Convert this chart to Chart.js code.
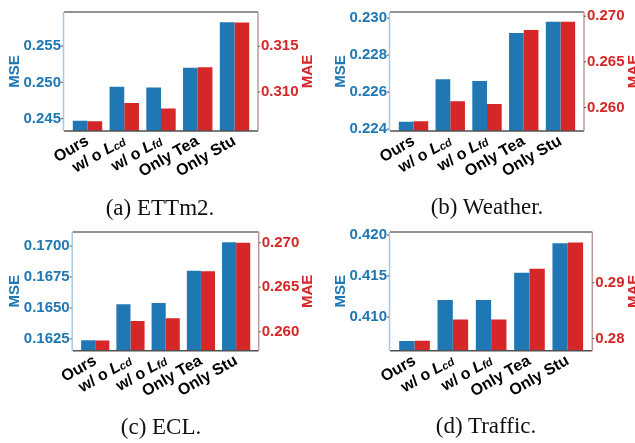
<!DOCTYPE html>
<html>
<head>
<meta charset="utf-8">
<script src="https://cdn.jsdelivr.net/npm/chart.js@4.4.1/dist/chart.umd.min.js"></script>
<style>
html,body{margin:0;padding:0;background:#fff;overflow:hidden;width:635px;height:443px}
canvas{position:absolute}
.cap{position:absolute;font-family:"Liberation Serif","Times New Roman",serif;font-size:23px;color:#111;transform:translate(-50%,-50%);white-space:nowrap}
</style>
</head>
<body>
<canvas id="cA" width="320" height="200" style="left:0;top:0"></canvas>
<canvas id="cB" width="330" height="200" style="left:320px;top:0"></canvas>
<canvas id="cC" width="320" height="200" style="left:0;top:220px"></canvas>
<canvas id="cD" width="330" height="200" style="left:320px;top:220px"></canvas>
<div class="cap" style="left:160px;top:208px">(a) ETTm2.</div>
<div class="cap" style="left:487px;top:207px">(b) Weather.</div>
<div class="cap" style="left:161px;top:427px">(c) ECL.</div>
<div class="cap" style="left:486px;top:426px">(d) Traffic.</div>
<script>
// ===== DATA =====
let categories=['Ours','w/ o L_{cd}','w/ o L_{fd}','Only Tea','Only Stu']

let ettMse=[0.2447,0.2494,0.2493,0.2520,0.2583]
let ettMae=[0.3068,0.3088,0.3082,0.3127,0.3176]
let ettMseTicks=['0.245','0.250','0.255']
let ettMaeTicks=['0.310','0.315']

let weatherMse=[0.2244,0.2267,0.2266,0.2292,0.2298]
let weatherMae=[0.2585,0.2607,0.2604,0.2685,0.2694]
let weatherMseTicks=['0.224','0.226','0.228','0.230']
let weatherMaeTicks=['0.260','0.265','0.270']

let eclMse=[0.1624,0.1653,0.1654,0.1680,0.1703]
let eclMae=[0.2590,0.2612,0.2615,0.2668,0.2700]
let eclMseTicks=['0.1625','0.1650','0.1675','0.1700']
let eclMaeTicks=['0.260','0.265','0.270']

let trafficMse=[0.4071,0.4121,0.4121,0.4154,0.4190]
let trafficMae=[0.2796,0.2834,0.2834,0.2925,0.2972]
let trafficMseTicks=['0.410','0.415','0.420']
let trafficMaeTicks=['0.28','0.29']

const BLUE='#1f77b4'
const RED='#d62728'
const SANS='"Liberation Sans", Arial, sans-serif'

Chart.defaults.font.family=SANS

// spines, tick marks, rotated x labels and axis titles
const panelPlugin={
    id:'panel',
    afterDraw(chart){
        let ctx=chart.ctx, a=chart.chartArea
        let xs=chart.scales.x, yl=chart.scales.y, yr=chart.scales.y1
        ctx.save()
        // spines
        ctx.lineWidth=1.5
        ctx.strokeStyle='#6e6e6e'
        ctx.beginPath(); ctx.moveTo(a.left,a.top); ctx.lineTo(a.right,a.top); ctx.stroke()
        ctx.strokeStyle='#505050'
        ctx.beginPath(); ctx.moveTo(a.left,a.bottom); ctx.lineTo(a.right,a.bottom); ctx.stroke()
        ctx.strokeStyle='#a9c7e0'
        ctx.beginPath(); ctx.moveTo(a.left-0.5,a.top); ctx.lineTo(a.left-0.5,a.bottom); ctx.stroke()
        ctx.strokeStyle='#bf9999'
        ctx.beginPath(); ctx.moveTo(a.right,a.top); ctx.lineTo(a.right,a.bottom); ctx.stroke()
        // tiny tick marks
        ctx.lineWidth=1
        ctx.strokeStyle='#555'
        yl.ticks.forEach(t=>{
            let p=yl.getPixelForValue(t.value)
            ctx.beginPath(); ctx.moveTo(a.left-3,p); ctx.lineTo(a.left-1,p); ctx.stroke()
        })
        yr.ticks.forEach(t=>{
            let p=yr.getPixelForValue(t.value)
            ctx.beginPath(); ctx.moveTo(a.right,p); ctx.lineTo(a.right+2,p); ctx.stroke()
        })
        // x labels, right aligned at the tick and rotated 30 deg
        ctx.fillStyle='#000'
        categories.forEach((lab,i)=>{
            let m=lab.match(/^(.*?)(\w)_\{(\w+)\}$/)
            let parts=m ? [[m[1],'bold 16px '+SANS,0],[m[2],'italic bold 16px '+SANS,0],[m[3],'italic bold 11px '+SANS,4.5]]
                        : [[lab,'bold 16px '+SANS,0]]
            let total=0
            parts.forEach(p=>{ ctx.font=p[1]; total+=ctx.measureText(p[0]).width })
            ctx.save()
            ctx.translate(xs.getPixelForValue(i)-4,a.bottom+2)
            ctx.rotate(-Math.PI/6)
            ctx.textAlign='left'
            ctx.textBaseline='top'
            let x=-total
            parts.forEach(p=>{
                ctx.font=p[1]
                ctx.fillText(p[0],x,p[2])
                x+=ctx.measureText(p[0]).width
            })
            ctx.restore()
        })
        // axis titles
        ctx.font='bold 15px '+SANS
        let wl=Math.max(...yl.ticks.map(t=>ctx.measureText(t.label).width))
        let wr=Math.max(...yr.ticks.map(t=>ctx.measureText(t.label).width))
        let midY=(a.top+a.bottom)/2
        ctx.textAlign='center'
        ctx.textBaseline='middle'
        ctx.fillStyle=BLUE
        ctx.save(); ctx.translate(a.left-3-wl-9,midY); ctx.rotate(-Math.PI/2); ctx.fillText('MSE',0,0); ctx.restore()
        ctx.fillStyle=RED
        ctx.save(); ctx.translate(a.right+3+wr+9,midY); ctx.rotate(-Math.PI/2); ctx.fillText('MAE',0,0); ctx.restore()
        ctx.restore()
    }
}

function drawPanel(id,mse,mae,mseTicks,maeTicks,yMin,yMax,y1Min,y1Max,box){
    let ctx=document.getElementById(id).getContext('2d')
    return new Chart(ctx,{
        type:'bar',
        data:{
            datasets:[{
                label:'MSE',
                data:mse.map((v,i)=>({x:i,y:v})),
                yAxisID:'y',
                backgroundColor:BLUE
            },{
                label:'MAE',
                data:mae.map((v,i)=>({x:i,y:v})),
                yAxisID:'y1',
                backgroundColor:RED
            }]
        },
        options:{
            responsive:false,
            animation:false,
            categoryPercentage:0.8,
            barPercentage:1.0,
            layout:{padding:{top:box.top,bottom:box.bottom,left:0,right:0}},
            plugins:{legend:{display:false},tooltip:{enabled:false}},
            scales:{
                x:{type:'linear',display:false,offset:false,grid:{offset:false},
                    min:-0.64,max:4.64,bounds:'data'},
                y:{
                    position:'left',min:yMin,max:yMax,
                    grid:{display:false,drawTicks:false},border:{display:false},
                    afterBuildTicks:s=>{ s.ticks=mseTicks.map(t=>({value:parseFloat(t)})) },
                    afterFit:s=>{ s.width=box.left },
                    ticks:{color:BLUE,padding:3,font:{size:15,weight:'bold'},
                        callback:(v)=>mseTicks.find(t=>Math.abs(parseFloat(t)-v)<1e-9)}
                },
                y1:{
                    position:'right',min:y1Min,max:y1Max,
                    grid:{display:false,drawTicks:false},border:{display:false},
                    afterBuildTicks:s=>{ s.ticks=maeTicks.map(t=>({value:parseFloat(t)})) },
                    afterFit:s=>{ s.width=box.right },
                    ticks:{color:RED,padding:3,font:{size:15,weight:'bold'},
                        callback:(v)=>maeTicks.find(t=>Math.abs(parseFloat(t)-v)<1e-9)}
                }
            }
        },
        plugins:[panelPlugin]
    })
}

drawPanel('cA',ettMse,ettMae,ettMseTicks,ettMaeTicks,0.2433,0.2597,0.30573,0.31875,
    {top:6,bottom:69,left:64,right:62})
drawPanel('cB',weatherMse,weatherMae,weatherMseTicks,weatherMaeTicks,0.2239,0.23033,0.25743,0.27046,
    {top:8,bottom:69,left:70,right:66})
drawPanel('cC',eclMse,eclMae,eclMseTicks,eclMaeTicks,0.16155,0.17113,0.25786,0.27121,
    {top:6,bottom:69.3,left:72.7,right:61.3})
drawPanel('cD',trafficMse,trafficMae,trafficMseTicks,trafficMaeTicks,0.40592,0.42036,0.27781,0.29906,
    {top:10.3,bottom:69.3,left:70,right:57.7})
</script>
</body>
</html>
